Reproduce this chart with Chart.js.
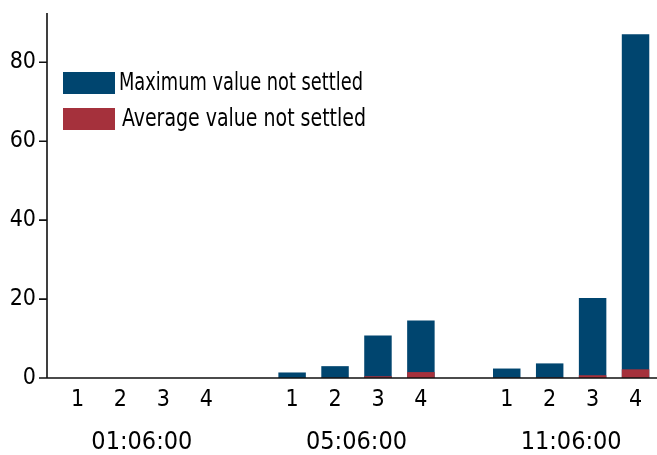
<!DOCTYPE html>
<html lang="en">
<head>
  <meta charset="UTF-8">
  <title>Values not settled</title>
  <script src="https://cdn.jsdelivr.net/npm/chart.js"></script>
  <style>
    body {
      margin: 0;
      background: #fff;
    }
    .chart-container {
      width: 657px;
      height: 455px;
    }
  </style>
</head>
<body>
  <div class="chart-container"><canvas id="chart"></canvas></div>

  <script>
    // values
    const groups = ['01:06:00', '05:06:00', '11:06:00'];
    const barLabels = ['1', '2', '3', '4'];
    const maxValues = [
      [0, 0, 0, 0],
      [1.4, 3.0, 10.8, 14.6],
      [2.4, 3.7, 20.3, 87.1]
    ];
    const avgValues = [
      [0, 0, 0, 0],
      [0, 0.05, 0.45, 1.5],
      [0.05, 0.1, 0.7, 2.2]
    ];
    const yTicks = [0, 20, 40, 60, 80];

    const FONT = "'Liberation Sans Narrow', 'Arial Narrow', 'DejaVu Sans Condensed', sans-serif";
    const BLUE = '#00456F';
    const RED = '#A5313C';

    // one empty slot between the groups
    const labels = [];
    const maxData = [];
    const avgData = [];
    groups.forEach((g, i) => {
      if (i > 0) {
        labels.push('');
        maxData.push(null);
        avgData.push(null);
      }
      labels.push(...barLabels);
      maxData.push(...maxValues[i]);
      avgData.push(...avgValues[i]);
    });

    // group names sit on the slot boundaries, between bar 2 and bar 3
    const groupAxisLabels = new Array(labels.length + 1).fill('');
    groups.forEach((g, i) => {
      groupAxisLabels[i * (barLabels.length + 1) + 2] = g;
    });

    const AXIS_GAP = 9;

    const axisLines = {
      id: 'axisLines',
      afterDatasetsDraw(chart) {
        const { ctx, chartArea } = chart;
        const x0 = chartArea.left - AXIS_GAP;
        ctx.save();
        ctx.strokeStyle = '#111';
        ctx.lineWidth = 1.6;
        ctx.beginPath();
        ctx.moveTo(x0, chartArea.top);
        ctx.lineTo(x0, chartArea.bottom);
        ctx.moveTo(x0, chartArea.bottom);
        ctx.lineTo(chartArea.right, chartArea.bottom);
        chart.scales.y.ticks.forEach(t => {
          const y = chart.scales.y.getPixelForValue(t.value);
          ctx.moveTo(x0 - 8, y);
          ctx.lineTo(x0, y);
        });
        ctx.stroke();
        ctx.restore();
      }
    };

    // legend inside the plot, text squeezed to the narrow look of the original
    const boxLegend = {
      id: 'boxLegend',
      afterDraw(chart) {
        const { ctx, chartArea } = chart;
        ctx.save();
        ctx.font = '25px ' + FONT;
        ctx.textBaseline = 'middle';
        ctx.textAlign = 'left';
        chart.data.datasets.forEach((ds, i) => {
          const x = chartArea.left + 7;
          const y = chartArea.top + 59 + i * 36;
          ctx.fillStyle = ds.backgroundColor;
          ctx.fillRect(x, y, 52, 22);
          ctx.fillStyle = '#000';
          const w = ctx.measureText(ds.label).width;
          const sx = Math.min(1, 244 / w);
          ctx.save();
          ctx.translate(x + 52 + 4 + i * 3, y + 11);
          ctx.scale(sx, 1);
          ctx.fillText(ds.label, 0, 0);
          ctx.restore();
        });
        ctx.restore();
      }
    };

    new Chart(document.getElementById('chart').getContext('2d'), {
      type: 'bar',
      data: {
        labels: labels,
        datasets: [
          {
            label: 'Maximum value not settled',
            data: maxData,
            backgroundColor: BLUE,
            grouped: false,
            order: 1,
            categoryPercentage: 1,
            barPercentage: 0.64
          },
          {
            label: 'Average value not settled',
            data: avgData,
            backgroundColor: RED,
            grouped: false,
            order: 0,
            categoryPercentage: 1,
            barPercentage: 0.64
          }
        ]
      },
      options: {
        responsive: true,
        maintainAspectRatio: false,
        animation: false,
        layout: { padding: { top: 13, right: 0, bottom: 0, left: 0 } },
        plugins: {
          legend: { display: false },
          tooltip: { enabled: false }
        },
        scales: {
          y: {
            min: 0,
            max: 92.5,
            stacked: false,
            afterBuildTicks: s => { s.ticks = yTicks.map(v => ({ value: v })); },
            afterFit: s => {
              s.width = 56;
              s.paddingTop = 0;
              s.paddingBottom = 0;
            },
            grid: { display: false, drawTicks: false },
            border: { display: false },
            ticks: {
              padding: 20,
              color: '#000',
              font: { family: FONT, size: 23, lineHeight: 1 }
            }
          },
          x: {
            type: 'category',
            offset: true,
            afterFit: s => {
              s.height = 52;
              s.paddingLeft = 0;
              s.paddingRight = 0;
            },
            grid: { display: false, drawTicks: false },
            border: { display: false },
            ticks: {
              autoSkip: false,
              maxRotation: 0,
              padding: 11,
              color: '#000',
              font: { family: FONT, size: 23, lineHeight: 1 }
            }
          },
          x2: {
            type: 'category',
            position: 'bottom',
            labels: groupAxisLabels,
            offset: false,
            afterFit: s => {
              s.height = 25;
              s.paddingLeft = 0;
              s.paddingRight = 0;
            },
            grid: { display: false, drawTicks: false },
            border: { display: false },
            ticks: {
              autoSkip: false,
              maxRotation: 0,
              padding: 0,
              color: '#000',
              font: { family: FONT, size: 25, lineHeight: 1 }
            }
          }
        }
      },
      plugins: [axisLines, boxLegend]
    });
  </script>
</body>
</html>
